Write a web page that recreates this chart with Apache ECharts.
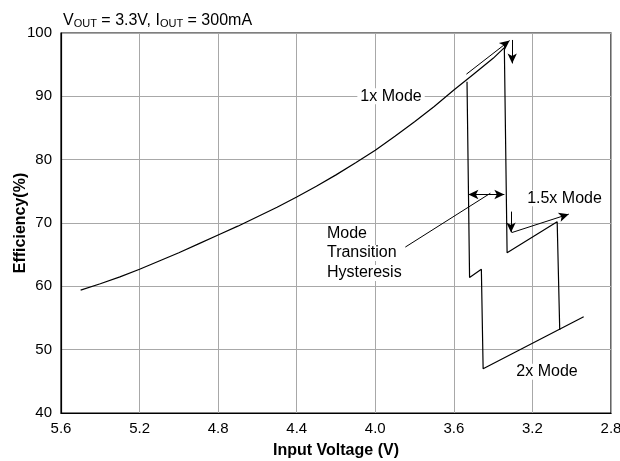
<!DOCTYPE html>
<html>
<head>
<meta charset="utf-8">
<script src="https://cdn.jsdelivr.net/npm/echarts@6/dist/echarts.min.js"></script>
<style>html,body{margin:0;padding:0;background:#fff}#c{width:620px;height:461px}</style>
</head>
<body>
<div id="c"></div>
<script>
// 1x mode curve (input voltage decreasing)
const vin1x = [5.50,5.40,5.30,5.20,5.10,5.00,4.90,4.80,4.70,4.60,4.50,4.40,4.30,4.20,4.10,4.00,3.90,3.80,3.70,3.60,3.50,3.40,3.343];
const eff1x = [59.4,60.4,61.5,62.7,64.0,65.3,66.7,68.1,69.5,71.0,72.5,74.1,75.8,77.6,79.5,81.5,83.7,86.0,88.4,91.0,93.5,96.0,97.7];
// path when Vin falls: 1x -> 1.5x -> 2x
const vinDown = [3.338,3.329,3.074,3.061];
const effDown = [97.8,65.3,70.2,53.1];
// path when Vin rises: 2x -> 1.5x -> 1x
const vinUp = [2.939,3.451,3.460,3.520,3.533];
const effUp = [55.2,47.0,62.7,61.4,92.3];
// axis ticks
const xTicks = [5.6,5.2,4.8,4.4,4.0,3.6,3.2,2.8];
const yTicks = [40,50,60,70,80,90,100];
// annotations: [x1,y1,x2,y2]
const arrows = [
  [3.536,93.5,3.316,98.8],
  [3.303,98.9,3.303,95.2],
  [3.309,71.8,3.309,68.5],
  [3.304,68.5,3.015,71.4]
];
const dblArrow = [3.526,74.5,3.343,74.5];
const leader = [3.847,66.2,3.414,74.7];
const labels = [
  [4.076,90.0,'1x Mode'],
  [4.246,68.4,'Mode'],
  [4.246,65.25,'Transition'],
  [4.246,62.1,'Hysteresis'],
  [3.227,73.9,'1.5x Mode'],
  [3.282,46.5,'2x Mode']
];

const zip = (a,b)=>a.map((v,i)=>[v,b[i]]);
const FONT = 'Liberation Sans, Arial, sans-serif';
const lineStyle = {color:'#000',width:1.2};

const mlData = arrows.map(a=>[{coord:[a[0],a[1]]},{coord:[a[2],a[3]]}]);
const chart = echarts.init(document.getElementById('c'));
chart.setOption({
  animation:false,
  backgroundColor:'#fff',
  textStyle:{fontFamily:FONT},
  title:{
    left:58, top:7,
    text:'{a|V}{s|OUT}{a| = 3.3V, I}{s|OUT}{a| = 300mA}',
    textStyle:{rich:{
      a:{fontSize:16,fontFamily:FONT,color:'#000',fontWeight:'normal'},
      s:{fontSize:11,fontFamily:FONT,color:'#000',fontWeight:'normal',verticalAlign:'bottom',padding:[6,0,0,0]}
    }}
  },
  grid:{left:61,right:9,top:33,bottom:48,show:true,borderColor:'#000',borderWidth:1.2,backgroundColor:'transparent',
        containLabel:false,outerBoundsMode:'none'},
  xAxis:{
    type:'value', inverse:true, min:2.8, max:5.6, interval:0.4,
    name:'Input Voltage (V)', nameLocation:'middle', nameGap:30, nameMoveOverlap:false,
    nameTextStyle:{fontSize:16,fontWeight:'bold',color:'#000',fontFamily:FONT},
    axisLine:{show:true,lineStyle:{color:'#000',width:1.2}},
    axisTick:{show:false},
    axisLabel:{fontSize:15,color:'#000',margin:8,fontFamily:FONT,
      formatter:v=>{const t=xTicks.find(x=>Math.abs(x-v)<1e-6);return t===undefined?'':t.toFixed(1);}},
    splitLine:{show:true,lineStyle:{color:'#a8a8a8',width:1}}
  },
  yAxis:{
    type:'value', min:40, max:100, interval:10,
    name:'Efficiency(%)', nameLocation:'middle', nameGap:32, nameMoveOverlap:false,
    nameTextStyle:{fontSize:16,fontWeight:'bold',color:'#000',fontFamily:FONT},
    axisLine:{show:true,lineStyle:{color:'#000',width:1.2}},
    axisTick:{show:false},
    axisLabel:{fontSize:15,color:'#000',margin:9,fontFamily:FONT,
      formatter:v=>yTicks.includes(v)?String(v):''},
    splitLine:{show:true,lineStyle:{color:'#a8a8a8',width:1}}
  },
  series:[
    {type:'line',name:'Vin falling',data:zip(vin1x,eff1x).concat(zip(vinDown,effDown)),
     showSymbol:false,symbol:'none',lineStyle:lineStyle,z:3,silent:true},
    {type:'line',name:'Vin rising',data:zip(vinUp,effUp),
     showSymbol:false,symbol:'none',lineStyle:lineStyle,z:3,silent:true},
    {type:'line',name:'annotations',data:[],silent:true,
     markLine:{silent:true,animation:false,symbol:['none','arrow'],symbolSize:[7,10],
       label:{show:false},lineStyle:{color:'#000',width:1,type:'solid'},
       data:mlData.concat([
         [{coord:[dblArrow[0],dblArrow[1]],symbol:'arrow'},{coord:[dblArrow[2],dblArrow[3]],symbol:'arrow'}],
         [{coord:[leader[0],leader[1]],symbol:'none'},{coord:[leader[2],leader[3]],symbol:'none'}]
       ])}},
    {type:'scatter',name:'labels',symbolSize:0,silent:true,z:5,
     itemStyle:{color:'#000'},
     data:labels.map(l=>({value:[l[0],l[1]],name:l[2]})),
     label:{show:true,position:'right',distance:0,offset:[-3,0],formatter:p=>p.name,
       fontSize:16,color:'#000',fontFamily:FONT,lineHeight:16,align:'left',verticalAlign:'middle',
       textBorderWidth:0,opacity:1,
       backgroundColor:'#fff',padding:[0,3,0,3]},
     emphasis:{disabled:true}}
  ]
});
</script>
</body>
</html>
